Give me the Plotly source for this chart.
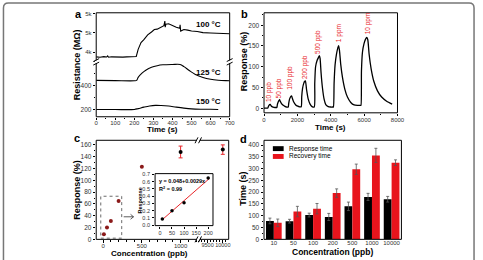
import plotly.graph_objects as go

W, H = 483, 260
def PX(x): return x / W
def PY(y): return 1 - y / H

# ---------------- data ----------------
# panel a (resistance vs time)
t_100 = [0, 20, 40, 55, 60, 65, 80, 100, 120, 140, 160, 180, 200, 210, 220, 235, 250, 270, 290, 305, 320, 340, 355, 360, 362, 365, 380, 400, 420, 438, 440, 443, 460, 480, 500, 530, 560, 600, 640, 670, 700]
r_100 = [3760, 3740, 3770, 3750, 3810, 3740, 3760, 3750, 3770, 3745, 3760, 3755, 3760, 3780, 4150, 4500, 4650, 4900, 5050, 5180, 5200, 5280, 5380, 5620, 5300, 5450, 5480, 5380, 5300, 5240, 5420, 5100, 5180, 5150, 5100, 5080, 5020, 5000, 4990, 4980, 4960]
t_125 = [0, 100, 200, 212, 220, 240, 260, 290, 320, 350, 400, 440, 460, 490, 520, 560, 600, 640, 680, 700]
r_125 = [445, 443, 442, 445, 470, 505, 530, 555, 568, 575, 578, 578, 560, 525, 495, 470, 455, 447, 443, 442]
t_150 = [0, 100, 200, 220, 250, 280, 310, 340, 380, 420, 460, 500, 550, 600, 640]
r_150 = [203, 202, 203, 210, 222, 232, 237, 236, 231, 222, 214, 208, 205, 204, 203]
temp_labels = ["100 \u00b0C", "125 \u00b0C", "150 \u00b0C"]
a_upper_ticks = [4000, 5000, 6000]
a_upper_text = ["4k", "5k", "5k"]

# panel b (dynamic response)
t_b = [0, 150, 230, 260, 300, 340, 370, 420, 500, 600, 720,
       770, 800, 850, 900, 930, 970, 1050, 1150, 1250, 1360,
       1450, 1480, 1530, 1600, 1650, 1690, 1780, 1900, 2020, 2140,
       2230, 2260, 2310, 2380, 2440, 2480, 2550, 2650, 2760, 2880,
       3010, 3040, 3090, 3180, 3260, 3320, 3360, 3420, 3500, 3600, 3700, 3850, 4000, 4130,
       4160, 4200, 4260, 4340, 4420, 4470, 4520, 4600, 4700, 4850, 5000, 5200, 5400, 5600, 5780,
       5810, 5840, 5900, 5990, 6080, 6160, 6220, 6300, 6420, 6580, 6800, 7050, 7350, 7680]
resp_b = [0.5, 0.5, 0.8, 4, 7, 9, 9.5, 6, 3.5, 2.2, 1.8,
          2, 9, 15, 19, 20.5, 17, 11, 7, 4.5, 3,
          3, 12, 22, 28, 30, 25, 15, 8, 5, 3.5,
          3.5, 28, 48, 60, 65, 66, 45, 22, 10, 4,
          3, 60, 100, 115, 122, 127, 120, 85, 50, 22, 9, 4, 3, 3,
          3, 60, 105, 130, 145, 151, 140, 105, 75, 45, 27, 14, 8, 7, 7,
          7, 90, 135, 155, 166, 171, 165, 130, 95, 65, 42, 27, 17, 10]
pulse_labels = ["10 ppb", "50 ppb", "100 ppb", "200 ppb", "500 ppb", "1 ppm", "10 ppm"]
pulse_lab_t = [335, 882, 1512, 2412, 3276, 4470, 6218]
pulse_lab_y = [38, 47, 74, 100, 159, 180, 204]

# panel c (response vs concentration)
conc_low = [10, 50, 100, 200, 500]
resp_low = [8.5, 20, 31, 65, 123]
conc_hi = [1000, 10000]
resp_hi = [148, 152]
err_hi = [10, 8]
c_left_ticks = [0, 500, 1000]
c_right_ticks = [9500, 10000]
inset_conc = [10, 50, 100, 200]
inset_resp = [0.085, 0.2, 0.31, 0.65]
fit_a, fit_b = 0.048, 0.0029
fit_x = [10, 205]

# panel d (response / recovery time)
conc_cat = ["10", "50", "100", "200", "500", "1000", "10000"]
resp_time = [78, 77, 103, 95, 140, 180, 170]
resp_err = [12, 8, 8, 15, 18, 15, 12]
rec_time = [70, 118, 130, 196, 297, 356, 325]
rec_err = [16, 22, 22, 18, 22, 30, 12]

# ---------------- figure ----------------
fig = go.Figure()
LW = 1.1
fig.add_trace(go.Scatter(x=t_100, y=r_100, xaxis="x", yaxis="y", mode="lines",
                         line=dict(color="black", width=LW), showlegend=False))
fig.add_trace(go.Scatter(x=t_125, y=r_125, xaxis="x", yaxis="y2", mode="lines",
                         line=dict(color="black", width=LW, shape="spline"), showlegend=False))
fig.add_trace(go.Scatter(x=t_150, y=r_150, xaxis="x", yaxis="y2", mode="lines",
                         line=dict(color="black", width=LW, shape="spline"), showlegend=False))

fig.add_trace(go.Scatter(x=t_b, y=resp_b, xaxis="x2", yaxis="y3", mode="lines",
                         line=dict(color="black", width=1.3, shape="spline", smoothing=0.6),
                         showlegend=False))

fig.add_trace(go.Scatter(x=conc_low, y=resp_low, xaxis="x3", yaxis="y4", mode="markers",
                         marker=dict(color="#8b1a1a", size=4), showlegend=False))
fig.add_trace(go.Scatter(x=conc_hi, y=resp_hi, xaxis="x3", yaxis="y4", mode="markers",
                         marker=dict(color="black", size=4),
                         error_y=dict(type="data", array=err_hi, color="#e8262a", thickness=1, width=2),
                         showlegend=False))
fig.add_trace(go.Scatter(x=conc_hi, y=resp_hi, xaxis="x4", yaxis="y4", mode="markers",
                         marker=dict(color="black", size=4),
                         error_y=dict(type="data", array=err_hi, color="#e8262a", thickness=1, width=2),
                         showlegend=False))
fig.add_trace(go.Scatter(x=fit_x, y=[fit_a + fit_b * v for v in fit_x], xaxis="x5", yaxis="y5",
                         mode="lines", line=dict(color="#e8262a", width=1), showlegend=False))
fig.add_trace(go.Scatter(x=inset_conc, y=inset_resp, xaxis="x5", yaxis="y5", mode="markers",
                         marker=dict(color="black", size=3.5), showlegend=False))

fig.add_trace(go.Bar(x=conc_cat, y=resp_time, xaxis="x6", yaxis="y6", name="Response time",
                     marker=dict(color="black", line=dict(width=0)),
                     error_y=dict(type="data", array=resp_err, color="#555", thickness=0.8, width=1.5),
                     showlegend=False))
fig.add_trace(go.Bar(x=conc_cat, y=rec_time, xaxis="x6", yaxis="y6", name="Recovery time",
                     marker=dict(color="#e8141c", line=dict(width=0)),
                     error_y=dict(type="data", array=rec_err, color="#555", thickness=0.8, width=1.5),
                     showlegend=False))

TF = dict(family="Liberation Sans, Arial, sans-serif", size=6.5, color="#333")
TFs = dict(family="Liberation Sans, Arial, sans-serif", size=6, color="#333")
def ax(**kw):
    d = dict(showgrid=False, zeroline=False, showline=False, ticks="outside", ticklen=2.5,
             tickwidth=1, tickcolor="black", tickfont=TF, fixedrange=True, tickangle=0)
    d.update(kw)
    return d

minor = dict(ticks="outside", ticklen=1.5, tickcolor="black", showgrid=False)

fig.update_layout(
    width=W, height=H, margin=dict(l=0, r=0, t=0, b=0),
    paper_bgcolor="white", plot_bgcolor="rgba(0,0,0,0)",
    barmode="group", bargap=0.2, bargroupgap=0,
    # panel a
    xaxis=ax(domain=[PX(96), PX(232)], range=[0, 700], anchor="y2", tickvals=[0, 100, 200, 300, 400, 500, 600, 700],
             minor=dict(dtick=50, **minor), ticklabelstandoff=-2, tickfont=TFs),
    yaxis=ax(domain=[PY(61), PY(11)], range=[3500, 6050], anchor="x",
             tickvals=a_upper_ticks, ticktext=a_upper_text, tickfont=TFs),
    yaxis2=ax(domain=[PY(117), PY(61)], range=[142, 600], anchor="x",
              tickvals=[200, 400], minor=dict(dtick=100, **minor)),
    # panel b
    xaxis2=ax(domain=[PX(267), PX(403)], range=[0, 8000], anchor="y3",
              tickvals=[0, 2000, 4000, 6000, 8000], minor=dict(dtick=1000, **minor), ticklabelstandoff=-2,
              tickfont=TFs),
    yaxis3=ax(domain=[PY(113), PY(11)], range=[-11, 230], anchor="x2",
              tickvals=[0, 50, 100, 150, 200], minor=dict(dtick=25, **minor)),
    # panel c
    xaxis3=ax(domain=[PX(96), PX(200)], range=[-89, 1228], anchor="y4", tickvals=c_left_ticks,
              ticktext=[str(v) for v in c_left_ticks], minor=dict(dtick=100, **minor), ticklabelstandoff=-2,
              tickfont=TFs),
    xaxis4=ax(domain=[PX(200), PX(231)], range=[9194, 10194], anchor="y4", tickvals=c_right_ticks,
              ticktext=[str(v) for v in c_right_ticks], minor=dict(dtick=100, **minor), ticklabelstandoff=-2,
              tickfont=dict(TF, size=5.5)),
    yaxis4=ax(domain=[PY(242), PY(141)], range=[0, 167.8], anchor="x3",
              tickvals=[0, 20, 40, 60, 80, 100, 120, 140, 160], minor=dict(dtick=10, **minor)),
    # inset
    xaxis5=ax(domain=[PX(156), PX(215)], range=[-20, 220], anchor="y5", tickvals=[0, 50, 100, 150, 200],
              tickfont=dict(TF, size=5.5), ticklen=2, ticklabelstandoff=0),
    yaxis5=ax(domain=[PY(228), PY(175)], range=[-0.005, 0.71], anchor="x5",
              tickvals=[0, 0.1, 0.2, 0.3, 0.4, 0.5, 0.6, 0.7], tickformat=".1f",
              tickfont=dict(TF, size=5.5), ticklen=2, ticklabelstandoff=1),
    # panel d
    xaxis6=ax(domain=[PX(267), PX(407)], type="category", anchor="y6", ticklabelstandoff=-1, ticks="",
              tickfont=dict(TF, size=6)),
    yaxis6=ax(domain=[PY(242), PY(141)], range=[0, 420], anchor="x6",
              tickvals=[0, 50, 100, 150, 200, 250, 300, 350, 400], minor=dict(dtick=25, **minor)),
)

shapes = []
def frame(x0, y0, x1, y1):
    shapes.append(dict(type="rect", xref="paper", yref="paper", x0=PX(x0), x1=PX(x1), y0=PY(y1), y1=PY(y0),
                       line=dict(color="black", width=1), fillcolor="rgba(0,0,0,0)", layer="above"))
frame(96, 11, 232, 117)
frame(267, 11, 403, 113)
frame(96, 141, 231, 242)
frame(156, 175, 215, 228)
frame(267, 141, 407, 242)

def hbreak(x, y):
    shapes.append(dict(type="rect", xref="paper", yref="paper", x0=PX(x - 1.5), x1=PX(x + 1.5),
                       y0=PY(y + 1.5), y1=PY(y - 1.5), line=dict(width=0), fillcolor="white", layer="above"))
    for dy in (-1.8, 1.8):
        shapes.append(dict(type="line", xref="paper", yref="paper", x0=PX(x - 3), x1=PX(x + 3),
                           y0=PY(y + dy + 1.5), y1=PY(y + dy - 1.5), line=dict(color="black", width=1), layer="above"))
def vbreak(x, y):
    shapes.append(dict(type="rect", xref="paper", yref="paper", x0=PX(x - 1.5), x1=PX(x + 1.5),
                       y0=PY(y + 1.5), y1=PY(y - 1.5), line=dict(width=0), fillcolor="white", layer="above"))
    for dx in (-1.8, 1.8):
        shapes.append(dict(type="line", xref="paper", yref="paper", x0=PX(x + dx - 1.5), x1=PX(x + dx + 1.5),
                           y0=PY(y + 3), y1=PY(y - 3), line=dict(color="black", width=1), layer="above"))
hbreak(96, 61)
hbreak(232, 61)
vbreak(200, 141)
vbreak(200, 242)

# dashed box around low-concentration points (data coords of panel c)
shapes.append(dict(type="rect", xref="x3", yref="y4", x0=-30, x1=240, y0=2, y1=73,
                   line=dict(color="#444", width=0.8, dash="dot"), fillcolor="rgba(0,0,0,0)"))

# legend swatches for panel d
shapes.append(dict(type="rect", xref="paper", yref="paper", x0=PX(276), x1=PX(287), y0=PY(152), y1=PY(147),
                   fillcolor="black", line=dict(width=0)))
shapes.append(dict(type="rect", xref="paper", yref="paper", x0=PX(276), x1=PX(287), y0=PY(160), y1=PY(155),
                   fillcolor="#e8141c", line=dict(width=0)))

# outer rounded border
r = 5
bp = (f"M {PX(1.5)},{PY(300)} L {PX(1.5)},{PY(1 + r)} Q {PX(1.5)},{PY(1)} {PX(1.5 + r)},{PY(1)} "
      f"L {PX(481 - r)},{PY(1)} Q {PX(481)},{PY(1)} {PX(481)},{PY(1 + r)} L {PX(481)},{PY(300)}")
shapes.append(dict(type="path", xref="paper", yref="paper", path=bp, line=dict(color="#777", width=1.5)))
# arrow to inset (drawn as line + head)
shapes.append(dict(type="line", xref="paper", yref="paper", x0=PX(124), x1=PX(134), y0=PY(219), y1=PY(219),
                   line=dict(color="#333", width=0.8)))
shapes.append(dict(type="path", xref="paper", yref="paper",
                   path=f"M {PX(131)},{PY(216.5)} L {PX(134)},{PY(219)} L {PX(131)},{PY(221.5)}",
                   line=dict(color="#333", width=0.8)))
fig.update_layout(shapes=shapes)

ann = []
def text(x, y, s, size=9, bold=True, angle=0, color="black", xa="center", ya="middle"):
    ann.append(dict(xref="paper", yref="paper", x=PX(x), y=PY(y), text=f"<b>{s}</b>" if bold else s,
                    showarrow=False, textangle=angle, xanchor=xa, yanchor=ya,
                    font=dict(family="Liberation Sans, Arial, sans-serif", size=size, color=color)))

# panel letters
text(78, 12, "a", 11)
text(247, 12, "b", 11)
text(76, 139, "c", 11)
text(246, 140, "d", 11)
# axis titles
text(76, 64, "Resistance (M\u03a9)", 9, angle=-90)
text(164, 130.5, "Time (s)", 8)
text(246, 60, "Response (%)", 9, angle=-90)
text(335, 127.5, "Time (s)", 8)
text(77, 192, "Response (%)", 9, angle=-90)
text(150, 256, "Concentration (ppb)", 8)
text(246, 190, "Time (s)", 9, angle=-90)
text(337, 254.5, "Concentration (ppb)", 8.5)
text(141, 202, "Response", 5.5, angle=-90)
# temperature labels
for lab, yy in zip(temp_labels, [23, 72, 101]):
    text(225, yy, lab, 8, xa="right")
# inset equation
text(158, 182, "y = 0.048+0.0029x", 5.5, xa="left")
text(158, 191, "R<sup>2</sup> = 0.99", 5.5, xa="left")
# legend texts for d
text(290, 149.5, "Response time", 6.5, bold=False, xa="left")
text(290, 157.5, "Recovery time", 6.5, bold=False, xa="left")
# concentration labels in panel b
for lab, tx, ty in zip(pulse_labels, pulse_lab_t, pulse_lab_y):
    ann.append(dict(xref="x2", yref="y3", x=tx, y=ty, text=lab, showarrow=False, textangle=-90,
                    font=dict(family="Liberation Sans, Arial, sans-serif", size=6.5, color="#e8262a")))
fig.update_layout(annotations=ann)

fig.write_html("out.html")
